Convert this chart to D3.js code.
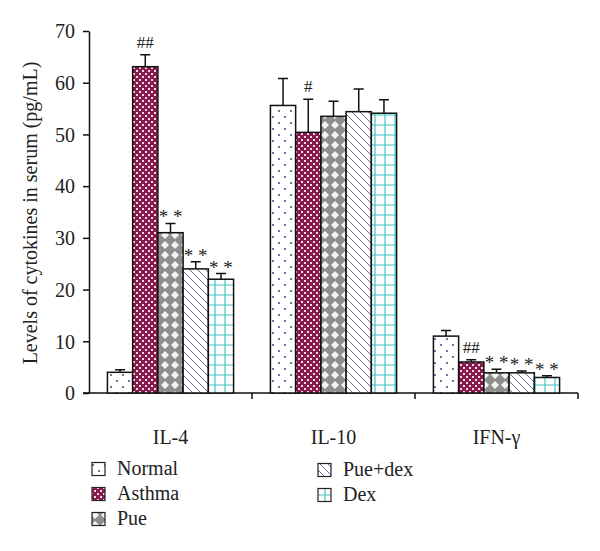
<!DOCTYPE html>
<html><head><meta charset="utf-8">
<script src="https://cdn.jsdelivr.net/npm/d3@7"></script>
<style>body{margin:0;background:#fff}svg{display:block}</style>
</head><body><svg id="c" width="600" height="551"></svg>
<script>
const categories = ["IL-4", "IL-10", "IFN-\u03b3"];
const seriesNames = ["Normal", "Asthma", "Pue", "Pue+dex", "Dex"];
const normal = [4.0, 55.6, 11.0];
const asthma = [63.1, 50.4, 6.0];
const pue = [31.0, 53.5, 3.9];
const pueDex = [24.0, 54.4, 3.9];
const dex = [22.0, 54.1, 3.0];
const normalErr = [0.5, 5.2, 1.1];
const asthmaErr = [2.3, 6.4, 0.45];
const pueErr = [1.8, 2.9, 0.7];
const pueDexErr = [1.4, 4.4, 0.35];
const dexErr = [1.1, 2.6, 0.35];
const marks = [["", "##", "* *", "* *", "* *"], ["", "#", "", "", ""], ["", "##", "* *", "* *", "* *"]];
const yTicks = [0, 10, 20, 30, 40, 50, 60, 70];

const SERIF = "'Liberation Serif', 'DejaVu Serif', serif";
const values = [normal, asthma, pue, pueDex, dex];
const errs = [normalErr, asthmaErr, pueErr, pueDexErr, dexErr];
const svg = d3.select("#c");
const defs = svg.append("defs");

// patterns
const pNormal = defs.append("pattern").attr("id", "p0").attr("patternUnits", "userSpaceOnUse").attr("width", 12).attr("height", 12);
pNormal.append("rect").attr("width", 12).attr("height", 12).attr("fill", "#fff");
pNormal.append("circle").attr("cx", 3).attr("cy", 3).attr("r", 1.1).attr("fill", "#55558f");
pNormal.append("circle").attr("cx", 9).attr("cy", 9).attr("r", 1.1).attr("fill", "#55558f");

const pAsthma = defs.append("pattern").attr("id", "p1").attr("patternUnits", "userSpaceOnUse").attr("width", 6).attr("height", 6);
pAsthma.append("rect").attr("width", 6).attr("height", 6).attr("fill", "#8a1a4e");
pAsthma.append("rect").attr("x", 1).attr("y", 1).attr("width", 2).attr("height", 2).attr("fill", "#f3dbe5");
pAsthma.append("rect").attr("x", 4).attr("y", 4).attr("width", 2).attr("height", 2).attr("fill", "#f3dbe5");

const pPue = defs.append("pattern").attr("id", "p2").attr("patternUnits", "userSpaceOnUse").attr("width", 10).attr("height", 10);
pPue.append("rect").attr("width", 10).attr("height", 10).attr("fill", "#8e8e8e");
pPue.append("path").attr("d", "M5,1 L9,5 L5,9 L1,5 Z").attr("fill", "#f4f4f4");

const pPD = defs.append("pattern").attr("id", "p3").attr("patternUnits", "userSpaceOnUse").attr("width", 8).attr("height", 8);
pPD.append("rect").attr("width", 8).attr("height", 8).attr("fill", "#fff");
pPD.append("path").attr("d", "M0,0 L8,8 M-4,4 L4,12 M4,-4 L12,4").attr("stroke", "#6a6a9e").attr("stroke-width", 1);

const pDex = defs.append("pattern").attr("id", "p4").attr("patternUnits", "userSpaceOnUse").attr("width", 10).attr("height", 10);
pDex.append("rect").attr("width", 10).attr("height", 10).attr("fill", "#fff");
pDex.append("path").attr("d", "M0,5 L10,5 M5,0 L5,10").attr("stroke", "#45c3c3").attr("stroke-width", 1.2);

const x0 = d3.scaleBand().domain(categories).range([89, 578]).paddingInner(0).paddingOuter(0);
const x1 = d3.scaleBand().domain(seriesNames).range([0, x0.bandwidth()]).paddingInner(0).paddingOuter(0.73);
const y = d3.scaleLinear().domain([0, 70]).range([393, 31]);

// y axis
const yAxis = d3.axisLeft(y).tickValues(yTicks).tickSize(6).tickSizeOuter(0);
const gy = svg.append("g").attr("transform", "translate(89,0)").call(yAxis);
gy.attr("font-family", SERIF).attr("font-size", 20);
gy.select(".domain").attr("stroke", "#111").attr("stroke-width", 1.5);
gy.selectAll(".tick line").attr("stroke", "#111").attr("stroke-width", 1.5);
gy.selectAll("text").attr("x", -14).attr("fill", "#222").attr("dy", "0.34em");

// x axis
const xAxis = d3.axisBottom(x0).tickSize(0).tickSizeOuter(0);
const gx = svg.append("g").attr("transform", "translate(0,393)").call(xAxis);
gx.attr("font-family", SERIF).attr("font-size", 20);
gx.select(".domain").remove();
gx.selectAll("text").attr("y", 0).attr("dy", 51).attr("fill", "#222");
svg.append("line").attr("x1", 83).attr("x2", 578).attr("y1", y(0)).attr("y2", y(0)).attr("stroke", "#111").attr("stroke-width", 1.5);
svg.selectAll(".sep").data(categories).enter().append("line")
  .attr("x1", d => x0(d) + x0.bandwidth()).attr("x2", d => x0(d) + x0.bandwidth())
  .attr("y1", y(0)).attr("y2", y(0) + 6).attr("stroke", "#111").attr("stroke-width", 1.5);

// y title
svg.append("text").attr("transform", "translate(37," + ((y(0) + y(70)) / 2 + 1) + ") rotate(-90)")
  .attr("text-anchor", "middle").attr("font-family", SERIF).attr("font-size", 20).attr("fill", "#222")
  .text("Levels of cytokines in serum (pg/mL)");

// bars
const data = [];
categories.forEach((c, ci) => seriesNames.forEach((s, si) => data.push({c, s, si, v: values[si][ci], e: errs[si][ci], m: marks[ci][si]})));

const g = svg.append("g");
g.selectAll(".err").data(data).enter().append("path")
  .attr("d", d => {
    const cx = x0(d.c) + x1(d.s) + x1.bandwidth() / 2;
    return `M${cx},${y(d.v)} L${cx},${y(d.v + d.e)} M${cx - 5},${y(d.v + d.e)} L${cx + 5},${y(d.v + d.e)}`;
  }).attr("stroke", "#111").attr("stroke-width", 1.5).attr("fill", "none");
g.selectAll(".bar").data(data).enter().append("rect")
  .attr("x", d => x0(d.c) + x1(d.s)).attr("width", x1.bandwidth())
  .attr("y", d => y(d.v)).attr("height", d => y(0) - y(d.v))
  .attr("fill", d => `url(#p${d.si})`).attr("stroke", "#111").attr("stroke-width", 1.5);

g.selectAll(".mk").data(data.filter(d => d.m)).enter().append("text")
  .attr("x", d => x0(d.c) + x1(d.s) + x1.bandwidth() / 2)
  .attr("y", d => y(d.v + d.e) - (d.m.indexOf("#") >= 0 ? 7 : 0))
  .attr("text-anchor", "middle").attr("font-family", SERIF).attr("fill", "#222")
  .attr("font-size", d => d.m.indexOf("#") >= 0 ? 17 : 19).text(d => d.m);

// legend
const legendPos = [[92, 469], [92, 494], [92, 519], [318, 470], [318, 495]];
const lg = svg.append("g");
seriesNames.forEach((s, i) => {
  const [lx, ly] = legendPos[i];
  lg.append("rect").attr("x", lx).attr("y", ly - 6.5).attr("width", 13).attr("height", 13)
    .attr("fill", `url(#p${i})`).attr("stroke", "#222").attr("stroke-width", 1.2);
  lg.append("text").attr("x", lx + 25).attr("y", ly + 6).attr("font-family", SERIF).attr("font-size", 20)
    .attr("fill", "#222").text(s);
});
</script></body></html>
